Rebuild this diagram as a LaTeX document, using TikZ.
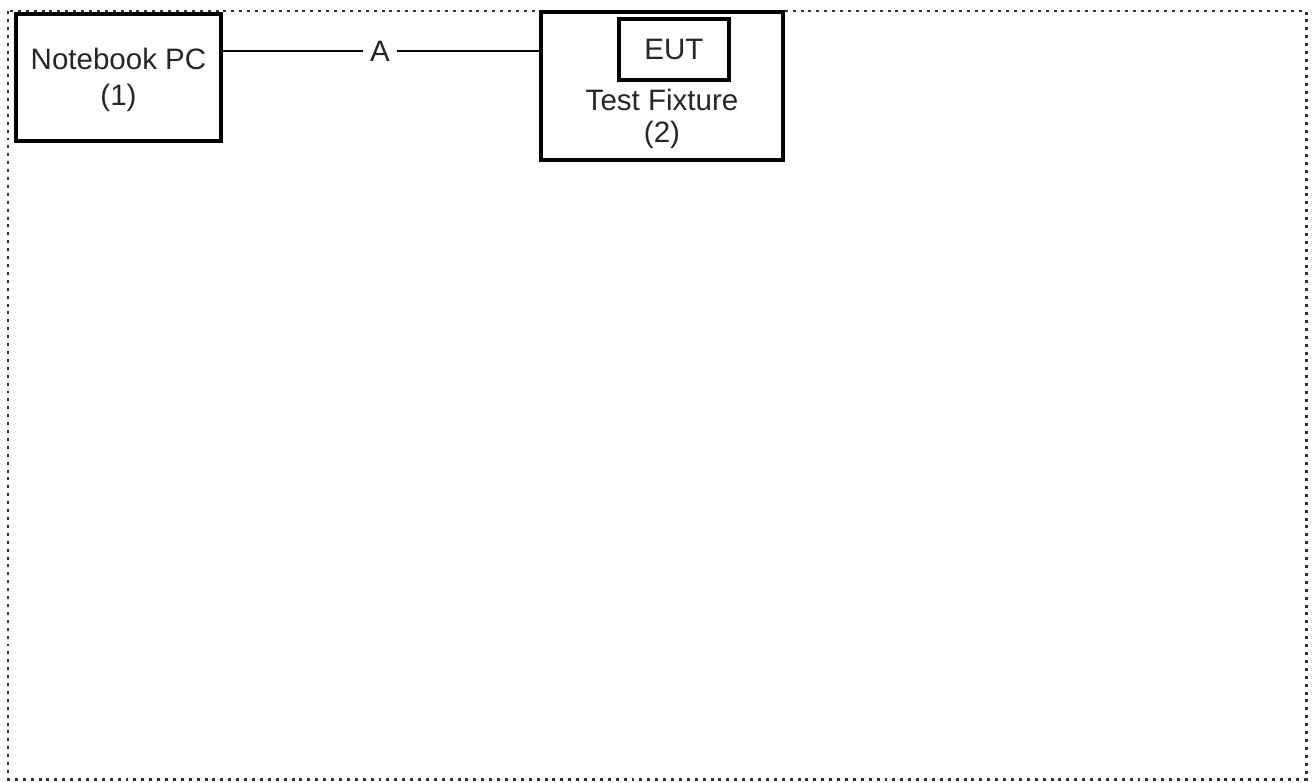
\documentclass[tikz,border=0pt]{standalone}
\usepackage{fontspec}
\setmainfont{Liberation Sans}
\usetikzlibrary{calc}

\begin{document}
\begin{tikzpicture}[x=0.02cm,y=-0.02cm,
  unitbox/.style={draw,line width=1.8pt,inner sep=0pt},
  boxtext/.style={font=\fontsize{16.8}{20}\selectfont,align=center,text=black!85}]
\useasboundingbox (0,0) rectangle (1312,782);
\coordinate (TL) at (8,11);
\coordinate (BR) at (1306,779);
\draw[line width=1.7pt,dash pattern=on 1.7pt off 2.8pt,black!80] (TL) rectangle (BR);
\node[unitbox,minimum width=205*0.02cm,minimum height=127*0.02cm] (pc) at (118.5,77.5) {};
\node[unitbox,minimum width=242*0.02cm,minimum height=148*0.02cm] (fix) at (662,86) {};
\node[unitbox,minimum width=110*0.02cm,minimum height=61*0.02cm] (eut) at (674,49.5) {};
\node[boxtext,font=\fontsize{16.8}{20.4}\selectfont] (pctext) at (118.5,80) {Notebook PC\\(1)};
\node[boxtext,font=\fontsize{16.8}{18.1}\selectfont] (fixtext) at (662,119) {Test Fixture\\(2)};
\node[boxtext] (euttext) at (eut) {EUT};
\node[boxtext,inner sep=4pt] (lblA) at (380,51) {A};
\draw[line width=1.3pt] (pc.east |- lblA) -- (lblA.west) (lblA.east) -- (fix.west |- lblA);
\end{tikzpicture}
\end{document}
